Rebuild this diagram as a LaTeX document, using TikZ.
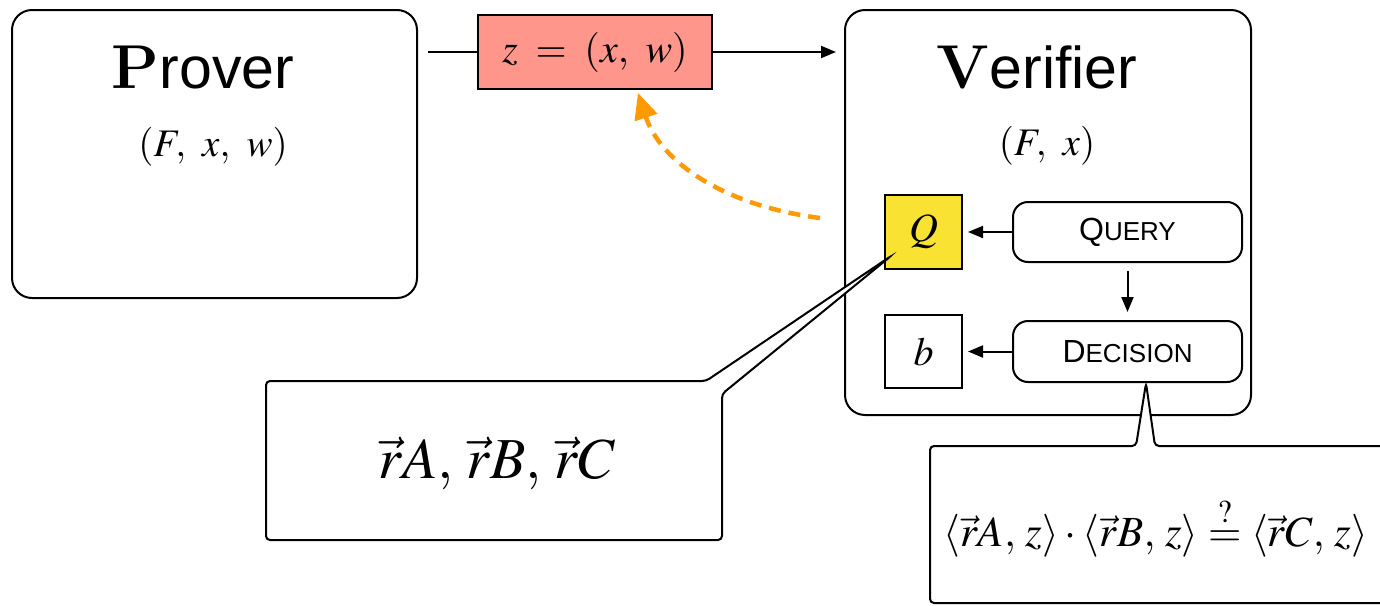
\documentclass[tikz,border=0pt]{standalone}
\usepackage{mathptmx}
\usepackage{fontspec}
\setmainfont{Latin Modern Roman}
\setsansfont{Liberation Sans}
\usetikzlibrary{arrows.meta}
\definecolor{zfill}{HTML}{FF968C}
\definecolor{qfill}{HTML}{F9E231}
\definecolor{orangearrow}{HTML}{FF9A05}
\tikzset{
  agent/.style={draw, line width=2pt, rounded corners=20pt},
  stepbox/.style={draw, line width=2pt, rounded corners=15pt, minimum width=229pt, minimum height=60pt, font=\sffamily},
  valbox/.style={draw, line width=2pt, minimum width=77pt, minimum height=74pt},
  flow/.style={line width=2pt, -{Triangle[length=15pt,width=12pt]}},
  callout/.style={draw, line width=2pt, fill=white, rounded corners=4pt},
}
\newcommand{\bigtitle}[2]{{\fontsize{62}{70}\selectfont\rmfamily\bfseries #1}{\fontsize{59}{70}\selectfont\sffamily #2}}
\newcommand{\smc}[2]{{\fontsize{32}{36}\selectfont #1}{\fontsize{26}{30}\selectfont #2}}
\begin{document}
\begin{tikzpicture}[x=1pt,y=-1pt]
\clip (0,0) rectangle (1380,605);
\fill[white] (0,0) rectangle (1380,605);
% Prover
\node[agent, minimum width=405pt, minimum height=288pt] (prover) at (214.5,154) {};
\node[anchor=base] (provertitle) at (203,88) {\bigtitle{P}{rover}};
\node (proverin) at (213,147) {\fontsize{39}{41}\selectfont $(F,\ x,\ w)$};
% Verifier
\node[agent, minimum width=406pt, minimum height=405pt] (verifier) at (1048,212.5) {};
\node[anchor=base] (verifiertitle) at (1037,88) {\bigtitle{V}{erifier}};
\node (verifierin) at (1047,146) {\fontsize{39}{41}\selectfont $(F,\ x)$};
% message
\node[draw, line width=2pt, fill=zfill, minimum width=234pt, minimum height=74pt] (zbox) at (595,52) {\fontsize{40}{42}\selectfont $z\;=\;(x,\ w)$};
\draw[line width=2pt] ([xshift=10pt]prover.east |- zbox.west) -- (zbox.west);
\draw[flow] (zbox.east) -- ([xshift=-8pt]verifier.west |- zbox.east);
% inner boxes
\node[valbox, fill=qfill] (Q) at (923.5,232) {\fontsize{40}{42}\selectfont $Q$};
\node[valbox, minimum height=73pt] (b) at (923.5,351.5) {\fontsize{40}{42}\selectfont $b$};
\node[stepbox] (query) at (1127.5,232) {\smc{Q}{UERY}};
\node[stepbox, minimum height=61pt] (decision) at (1127.5,351.5) {\smc{D}{ECISION}};
\draw[flow, shorten >=5pt] (query.west) -- (Q.east);
\draw[flow, shorten >=5pt] (decision.west) -- (b.east);
\draw[flow, shorten <=8pt, shorten >=8pt] (query.south) -- (decision.north);
% orange dashed arrow
\coordinate (ostart) at (820,218);
\draw[orangearrow, line width=4.5pt, dash pattern=on 12pt off 8pt, -{Triangle[length=26pt,width=23pt]}, shorten >=3pt]
  (ostart) .. controls (720,205) and (660,160) .. ([xshift=42pt]zbox.south);
% left callout
\draw[callout] (266,460) -- (266,381) -- (706,381) -- (891,256) -- (722,394) -- (722,540) -- (266,540) -- cycle;
\node (rvec) at (497,463) {\fontsize{58}{60}\selectfont $\vec rA,\,\vec rB,\,\vec rC$};
% right callout
\draw[callout] (1400,446) -- (1155,446) -- (1146,383) -- (1136,446) -- (930,446) -- (930,603) -- (1400,603) -- cycle;
\node[anchor=west] (check) at (940,527) {\fontsize{43}{45}\selectfont $\langle\vec rA,\,z\rangle\cdot\langle\vec rB,\,z\rangle\stackrel{?}{=}\langle\vec rC,\,z\rangle$};
\end{tikzpicture}
\end{document}
